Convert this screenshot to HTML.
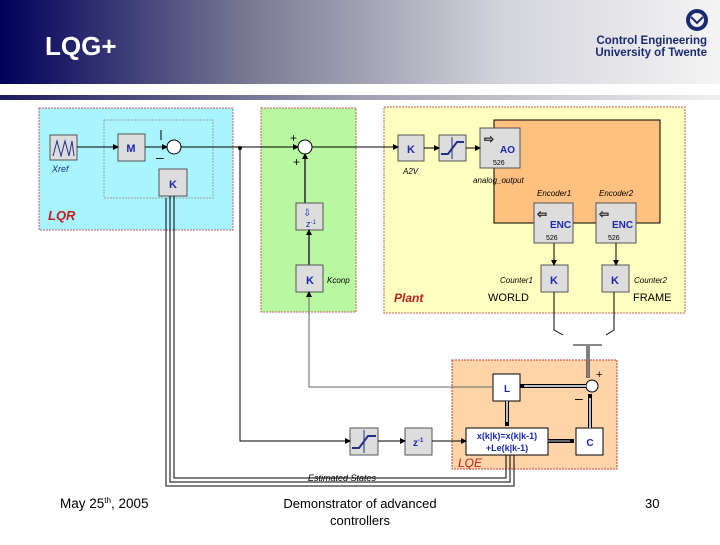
<!DOCTYPE html>
<html><head><meta charset="utf-8"><style>
body{margin:0;width:720px;height:540px;overflow:hidden;background:#fff;font-family:"Liberation Sans",sans-serif}
</style></head><body>
<svg width="720" height="540" xmlns="http://www.w3.org/2000/svg" font-family="Liberation Sans, sans-serif">
<defs>
<linearGradient id="hg" x1="0" x2="1"><stop offset="0" stop-color="#00005a"/><stop offset="0.35" stop-color="#7a7a94"/><stop offset="0.7" stop-color="#d4d4dc"/><stop offset="1" stop-color="#f4f4f4"/></linearGradient>
<linearGradient id="bg2" x1="0" x2="1"><stop offset="0" stop-color="#1a1a60"/><stop offset="0.5" stop-color="#a0a0b0"/><stop offset="1" stop-color="#f0f0f0"/></linearGradient>
<marker id="a" markerUnits="userSpaceOnUse" markerWidth="6" markerHeight="6" refX="5" refY="3" orient="auto"><path d="M0,0L6,3L0,6z" fill="#000"/></marker>
</defs>
<rect x="0" y="0" width="720" height="84" fill="url(#hg)"/>
<rect x="0" y="95" width="720" height="5" fill="url(#bg2)"/>
<text x="45" y="55" font-size="26" font-weight="bold" fill="#fff">LQG+</text>
<circle cx="697" cy="20" r="9" fill="none" stroke="#1a2a70" stroke-width="4"/>
<path d="M691,17 L697,23 L703,17" fill="none" stroke="#1a2a70" stroke-width="2"/>
<text x="707" y="44" font-size="11.5" font-weight="bold" fill="#1a2a70" text-anchor="end">Control Engineering</text>
<text x="707" y="56" font-size="11.5" font-weight="bold" fill="#1a2a70" text-anchor="end">University of Twente</text>

<!-- LQR -->
<rect x="39" y="108" width="194" height="122" fill="#a8f4ff" stroke="#c06060" stroke-dasharray="2,1"/>
<rect x="104" y="120" width="109" height="78" fill="none" stroke="#a0a0a0" stroke-dasharray="2,1"/>
<rect x="50" y="135" width="27" height="25" fill="#ddd" stroke="#555"/>
<path d="M53,156 L57,141 L61,156 L65,141 L69,156 L72,141 L74,156" fill="none" stroke="#22308a"/>
<text x="52" y="172" font-size="9" font-style="italic" fill="#22308a">Xref</text>
<rect x="118" y="134" width="27" height="27" fill="#ddd" stroke="#555"/>
<text x="131" y="152" font-size="11" font-weight="bold" fill="#1a28b0" text-anchor="middle">M</text>
<rect x="159" y="169" width="28" height="27" fill="#ddd" stroke="#555"/>
<text x="173" y="188" font-size="11" font-weight="bold" fill="#1a28b0" text-anchor="middle">K</text>
<circle cx="174" cy="147" r="7" fill="#fff" stroke="#000"/>
<text x="156" y="162" font-size="14" fill="#000">–</text>
<line x1="161" y1="130" x2="161" y2="140" stroke="#000"/>
<text x="48" y="220" font-size="13" font-weight="bold" font-style="italic" fill="#c02020">LQR</text>

<!-- green -->
<rect x="261" y="108" width="95" height="204" fill="#b8f8a0" stroke="#c06060" stroke-dasharray="2,1"/>
<circle cx="305" cy="147" r="7" fill="#fff" stroke="#000"/>
<text x="290" y="142" font-size="12" fill="#000">+</text>
<text x="293" y="166" font-size="12" fill="#000">+</text>
<rect x="296" y="203" width="27" height="27" fill="#ddd" stroke="#555"/>
<text x="303" y="216" font-size="10" fill="#1a28b0">⇩</text>
<text x="306" y="227" font-size="9" fill="#1a28b0">z<tspan font-size="6" dy="-3">-1</tspan></text>
<rect x="296" y="265" width="27" height="27" fill="#ddd" stroke="#555"/>
<text x="310" y="284" font-size="11" font-weight="bold" fill="#1a28b0" text-anchor="middle">K</text>
<text x="327" y="283" font-size="8" font-style="italic">Kconp</text>

<!-- Plant -->
<rect x="384" y="107" width="301" height="206" fill="#ffffc0" stroke="#c06060" stroke-dasharray="2,1"/>
<rect x="494" y="120" width="166" height="103" fill="#ffc080" stroke="#000"/>
<rect x="398" y="135" width="26" height="26" fill="#ddd" stroke="#555"/>
<text x="411" y="153" font-size="11" font-weight="bold" fill="#1a28b0" text-anchor="middle">K</text>
<text x="403" y="174" font-size="8" font-style="italic">A2V</text>
<rect x="439" y="135" width="27" height="26" fill="#ddd" stroke="#555"/>
<path d="M441,154 L448,154 L457,142 L464,142" fill="none" stroke="#22308a" stroke-width="2"/>
<line x1="452" y1="137" x2="452" y2="159" stroke="#22308a"/>
<rect x="480" y="128" width="40" height="40" fill="#ddd" stroke="#555"/>
<text x="484" y="143" font-size="12" fill="#fff" stroke="#000" stroke-width="0.5">⇨</text>
<text x="500" y="153" font-size="10" font-weight="bold" fill="#1a28b0">AO</text>
<text x="493" y="165" font-size="7">526</text>
<text x="473" y="183" font-size="8" font-style="italic">analog_output</text>
<text x="537" y="196" font-size="8" font-style="italic">Encoder1</text>
<text x="599" y="196" font-size="8" font-style="italic">Encoder2</text>
<rect x="534" y="203" width="39" height="40" fill="#ddd" stroke="#555"/>
<text x="537" y="218" font-size="12" fill="#fff" stroke="#000" stroke-width="0.5">⇦</text>
<text x="550" y="228" font-size="10" font-weight="bold" fill="#1a28b0">ENC</text>
<text x="546" y="240" font-size="7">526</text>
<rect x="596" y="203" width="40" height="40" fill="#ddd" stroke="#555"/>
<text x="599" y="218" font-size="12" fill="#fff" stroke="#000" stroke-width="0.5">⇦</text>
<text x="612" y="228" font-size="10" font-weight="bold" fill="#1a28b0">ENC</text>
<text x="608" y="240" font-size="7">526</text>
<rect x="541" y="265" width="27" height="27" fill="#ddd" stroke="#555"/>
<text x="554" y="284" font-size="11" font-weight="bold" fill="#1a28b0" text-anchor="middle">K</text>
<rect x="602" y="265" width="27" height="27" fill="#ddd" stroke="#555"/>
<text x="615" y="284" font-size="11" font-weight="bold" fill="#1a28b0" text-anchor="middle">K</text>
<text x="500" y="283" font-size="8" font-style="italic">Counter1</text>
<text x="634" y="283" font-size="8" font-style="italic">Counter2</text>
<text x="488" y="301" font-size="11">WORLD</text>
<text x="633" y="301" font-size="11">FRAME</text>
<text x="394" y="302" font-size="12" font-weight="bold" font-style="italic" fill="#c02020">Plant</text>

<!-- LQE -->
<rect x="452" y="360" width="165" height="109" fill="#ffd4a8" stroke="#c04040" stroke-dasharray="2,1"/>
<rect x="493" y="374" width="27" height="27" fill="#fff" stroke="#000"/>
<text x="507" y="392" font-size="10" font-weight="bold" fill="#1a28b0" text-anchor="middle">L</text>
<circle cx="592" cy="386" r="6" fill="#fff" stroke="#000"/>
<text x="596" y="378" font-size="11">+</text>
<text x="575" y="403" font-size="14">–</text>
<rect x="466" y="428" width="82" height="27" fill="#fff" stroke="#000"/>
<text x="507" y="439" font-size="9" font-weight="bold" fill="#1a28b0" text-anchor="middle">x(k|k)=x(k|k-1)</text>
<text x="507" y="451" font-size="9" font-weight="bold" fill="#1a28b0" text-anchor="middle">+Le(k|k-1)</text>
<rect x="576" y="428" width="27" height="27" fill="#fff" stroke="#000"/>
<text x="590" y="446" font-size="10" font-weight="bold" fill="#1a28b0" text-anchor="middle">C</text>
<rect x="405" y="428" width="27" height="27" fill="#ddd" stroke="#555"/>
<text x="413" y="446" font-size="10" font-weight="bold" fill="#1a28b0">z<tspan font-size="6" dy="-4">-1</tspan></text>
<rect x="350" y="428" width="28" height="27" fill="#ddd" stroke="#555"/>
<path d="M352,448 L359,448 L368,436 L376,436" fill="none" stroke="#22308a" stroke-width="2"/>
<line x1="364" y1="430" x2="364" y2="453" stroke="#22308a"/>
<text x="458" y="467" font-size="12" font-style="italic" fill="#c02020">LQE</text>
<text x="308" y="481" font-size="9" font-style="italic">Estimated States</text>

<!-- wires -->
<g stroke="#000" fill="none">
<line x1="77" y1="147" x2="118" y2="147" marker-end="url(#a)"/>
<line x1="145" y1="147" x2="167" y2="147" marker-end="url(#a)"/>
<line x1="181" y1="147" x2="298" y2="147" marker-end="url(#a)"/>
<circle cx="240" cy="148" r="1.5" fill="#000"/>
<polyline points="240,148 240,441 350,441" marker-end="url(#a)"/>
<line x1="378" y1="441" x2="405" y2="441" marker-end="url(#a)"/>
<line x1="432" y1="441" x2="466" y2="441" marker-end="url(#a)"/>
<line x1="312" y1="147" x2="398" y2="147" marker-end="url(#a)"/>
<line x1="424" y1="148" x2="439" y2="148" marker-end="url(#a)"/>
<line x1="466" y1="148" x2="480" y2="148" marker-end="url(#a)"/>
<line x1="305" y1="203" x2="305" y2="154" stroke="#555" stroke-width="2" marker-end="url(#a)"/>
<line x1="309" y1="265" x2="309" y2="230" stroke="#555" stroke-width="2" marker-end="url(#a)"/>
<polyline points="493,387 309,387 309,292" stroke="#666" marker-end="url(#a)"/>
<line x1="554" y1="243" x2="554" y2="265" marker-end="url(#a)"/>
<line x1="616" y1="243" x2="616" y2="265" marker-end="url(#a)"/>
<polyline points="554,292 554,330 563,335"/>
<polyline points="614,292 614,330 606,335"/>
<line x1="573" y1="345" x2="602" y2="345" stroke="#888" stroke-width="2"/>
<line x1="588" y1="346" x2="588" y2="378" stroke-width="3"/>
<line x1="588" y1="346" x2="588" y2="378" stroke="#fff" stroke-width="1"/>
<line x1="586" y1="386" x2="520" y2="386" stroke-width="4"/>
<line x1="586" y1="386" x2="524" y2="386" stroke="#fff" stroke-width="1.5"/>
<line x1="507" y1="401" x2="507" y2="426" stroke-width="4"/>
<line x1="507" y1="401" x2="507" y2="422" stroke="#fff" stroke-width="1.5"/>
<line x1="548" y1="441" x2="574" y2="441" stroke-width="4"/>
<line x1="548" y1="441" x2="570" y2="441" stroke="#888" stroke-width="1.5"/>
<line x1="590" y1="428" x2="590" y2="394" stroke-width="4"/>
<line x1="590" y1="428" x2="590" y2="398" stroke="#fff" stroke-width="1.5"/>
<polyline points="170,196 170,482 510,482 510,455"/>
<polyline points="174,196 174,478 506,478 506,455"/>
<polyline points="166,198 166,486 514,486 514,455"/>
</g>

<text x="60" y="508" font-size="13.5">May 25<tspan font-size="8" dy="-5">th</tspan><tspan dy="5">, 2005</tspan></text>
<text x="360" y="508" font-size="13" text-anchor="middle">Demonstrator of advanced</text>
<text x="360" y="525" font-size="13" text-anchor="middle">controllers</text>
<text x="645" y="508" font-size="13">30</text>
</svg>
</body></html>
